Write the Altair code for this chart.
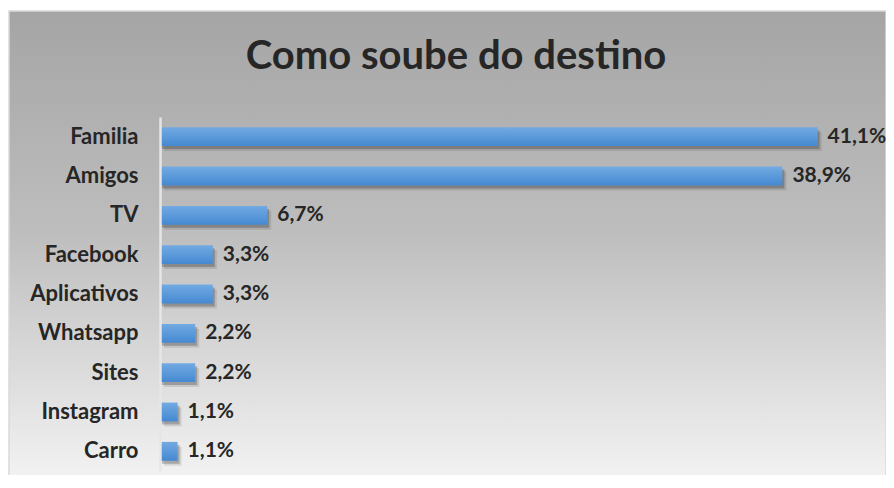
import altair as alt
import pandas as pd

categories = ["Familia", "Amigos", "TV", "Facebook", "Aplicativos",
              "Whatsapp", "Sites", "Instagram", "Carro"]
values = [41.1, 38.9, 6.7, 3.3, 3.3, 2.2, 2.2, 1.1, 1.1]
labels = ["41,1%", "38,9%", "6,7%", "3,3%", "3,3%", "2,2%", "2,2%", "1,1%", "1,1%"]
title_text = ["Como soube do destino"]

df = pd.DataFrame({"cat": categories, "val": values, "lab": labels})

FONT = "Lato"
W, H = 720, 354
PL, PT, PR, PB = 152, 109, 6, 4

xs = alt.Scale(domain=[0, 45], nice=False, zero=True)
ys = alt.Scale(domain=categories, paddingInner=0.52, paddingOuter=0.26)

bg = alt.Chart(pd.DataFrame({"a": [0]})).mark_rect(
    color=alt.LinearGradient(
        gradient="linear", x1=0, y1=0, x2=0, y2=1,
        stops=[alt.GradientStop(offset=0, color="#a5a5a5"),
               alt.GradientStop(offset=0.45, color="#bdbdbd"),
               alt.GradientStop(offset=1, color="#f6f6f6")]),
    stroke="#d9d9d9", strokeWidth=1.5,
).encode(
    x=alt.value(-PL + 1), x2=alt.value(W + PR),
    y=alt.value(-PT + 3), y2=alt.value(H + PB + 20),
)

title = alt.Chart(pd.DataFrame({"t": title_text})).mark_text(
    font=FONT, fontSize=40, fontWeight="bold", color="#262626",
    align="center", baseline="alphabetic",
).encode(text="t:N", x=alt.value(296), y=alt.value(-48))

base = alt.Chart(df).encode(
    y=alt.Y("cat:N", scale=ys, sort=categories, title=None,
            axis=alt.Axis(labelFont=FONT, labelFontSize=22, labelFontWeight="bold",
                          labelColor="#262626", ticks=False, labelPadding=22,
                          domainColor="#e6e6e6", domainWidth=2.5, grid=False,
                          zindex=2)),
)

shadow2 = base.mark_bar(color="#000000", opacity=0.10, xOffset=4, yOffset=5,
                        x2Offset=4, y2Offset=5).encode(
    x=alt.X("val:Q", scale=xs, axis=None))
shadow = base.mark_bar(color="#000000", opacity=0.22, xOffset=2, yOffset=3,
                       x2Offset=2, y2Offset=3).encode(
    x=alt.X("val:Q", scale=xs, axis=None))

bars = base.mark_bar(
    color=alt.LinearGradient(
        gradient="linear", x1=0, y1=0, x2=0, y2=1,
        stops=[alt.GradientStop(offset=0, color="#72aae2"),
               alt.GradientStop(offset=1, color="#4589d2")]),
).encode(x=alt.X("val:Q", scale=xs, axis=None))

text = base.mark_text(align="left", baseline="middle", dx=10, font=FONT,
                      fontSize=21, fontWeight="bold", color="#262626").encode(
    x=alt.X("val:Q", scale=xs, axis=None), text="lab:N")

chart = alt.layer(bg, title, shadow2, shadow, bars, text).properties(
    width=W, height=H,
    padding={"left": PL, "top": PT, "right": PR, "bottom": PB},
    autosize=alt.AutoSizeParams(type="none"),
).configure_view(stroke=None)

chart.save("out.html", embed_options={"renderer": "svg", "actions": False})
